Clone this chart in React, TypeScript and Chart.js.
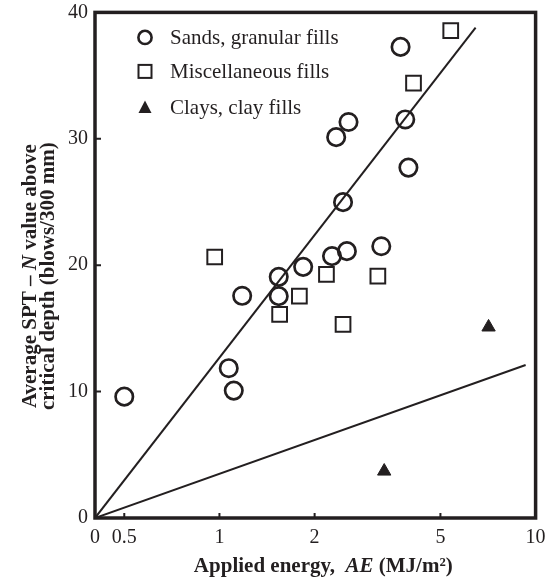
import React, { useEffect, useRef } from 'react';
import { Chart, registerables } from 'chart.js';

Chart.register(...registerables);

const FONT = '"Liberation Serif", "Times New Roman", serif';
const INK = '#231f20';

// Sands, granular fills (circles)
const sandsX = [0.5, 1.07, 1.11, 1.18, 1.54, 1.54, 1.84, 2.27, 2.53, 3.25, 2.46, 2.34, 2.56, 3.74, 3.87, 3.96];
const sandsY = [9.6, 11.85, 10.08, 17.58, 19.08, 17.55, 19.87, 20.72, 21.11, 21.5, 24.99, 30.13, 31.33, 37.27, 31.53, 27.72];
// Miscellaneous fills (squares)
const miscX = [5.39, 4.11, 0.966, 2.18, 3.17, 1.79, 1.55, 2.46];
const miscY = [38.55, 34.41, 20.65, 19.27, 19.14, 17.55, 16.11, 15.32];
// Clays, clay fills (triangles)
const clayX = [7.1, 3.32];
const clayY = [15.1, 3.7];
// Boundary lines from origin
const upperLineX = [0.404, 6.46];
const upperLineY = [0, 38.8];
const lowerLineX = [0.404, 9.3];
const lowerLineY = [0, 12.1];

const xMin = 0.404;
const xMax = 10;
const xTickValues = [0.404, 0.5, 1, 2, 5, 10];
const xTickLabels = ['0', '0.5', '1', '2', '5', '10'];
const innerTicksX = [0.5, 1, 2, 5];
const innerTicksY = [10, 20, 30];

const legendLabels = ['Sands, granular fills', 'Miscellaneous fills', 'Clays, clay fills'];
type Seg = { t: string; i: boolean };
const xTitle: Seg[] = [
  { t: 'Applied energy,  ', i: false },
  { t: 'AE', i: true },
  { t: ' (MJ/m\u00B2)', i: false },
];
const yTitle1: Seg[] = [
  { t: 'Average SPT \u2013 ', i: false },
  { t: 'N', i: true },
  { t: ' value above', i: false },
];
const yTitle2: Seg[] = [{ t: 'critical depth (blows/300 mm)', i: false }];

const zip = (xs: number[], ys: number[]) => xs.map((x, k) => ({ x, y: ys[k] }));

function drawSegs(ctx: CanvasRenderingContext2D, segs: Seg[], cx: number, y: number, size: number) {
  const fontFor = (s: Seg) => `${s.i ? 'italic ' : ''}bold ${size}px ${FONT}`;
  let total = 0;
  const widths = segs.map((s) => {
    ctx.font = fontFor(s);
    const w = ctx.measureText(s.t).width;
    total += w;
    return w;
  });
  let x = cx - total / 2;
  ctx.textAlign = 'left';
  ctx.textBaseline = 'alphabetic';
  segs.forEach((s, k) => {
    ctx.font = fontFor(s);
    ctx.fillText(s.t, x, y);
    x += widths[k];
  });
}

const decorPlugin = {
  id: 'decor',
  afterDraw(chart: any) {
    const { ctx, chartArea } = chart;
    const xs = chart.scales.x;
    const ys = chart.scales.y;
    const { left, right, top, bottom } = chartArea;
    ctx.save();
    ctx.strokeStyle = INK;
    ctx.fillStyle = INK;

    // frame
    ctx.lineWidth = 3.5;
    ctx.strokeRect(left, top, right - left, bottom - top);

    // inward ticks
    ctx.lineWidth = 2;
    ctx.beginPath();
    innerTicksX.forEach((v) => {
      const px = xs.getPixelForValue(v);
      ctx.moveTo(px, bottom);
      ctx.lineTo(px, bottom - 5);
    });
    innerTicksY.forEach((v) => {
      const py = ys.getPixelForValue(v);
      ctx.moveTo(left, py);
      ctx.lineTo(left + 6, py);
    });
    ctx.stroke();

    // x title
    drawSegs(ctx, xTitle, (left + right) / 2 + 8, 572, 21);

    // y title (two lines, rotated)
    const cy = (top + bottom) / 2 + 11;
    ctx.save();
    ctx.translate(35.5, cy);
    ctx.rotate(-Math.PI / 2);
    drawSegs(ctx, yTitle1, 0, 0, 21);
    ctx.restore();
    ctx.save();
    ctx.translate(54, cy);
    ctx.rotate(-Math.PI / 2);
    drawSegs(ctx, yTitle2, 0, 0, 21);
    ctx.restore();

    // legend
    const mx = left + 50;
    const tx = left + 75;
    const rows = [top + 25, top + 59, top + 95];
    ctx.lineWidth = 2.6;
    ctx.beginPath();
    ctx.arc(mx, rows[0], 6.6, 0, Math.PI * 2);
    ctx.stroke();
    ctx.lineWidth = 2;
    ctx.strokeRect(mx - 6.5, rows[1] - 6.5, 13, 13);
    ctx.beginPath();
    ctx.moveTo(mx, rows[2] - 7);
    ctx.lineTo(mx + 6.5, rows[2] + 5.5);
    ctx.lineTo(mx - 6.5, rows[2] + 5.5);
    ctx.closePath();
    ctx.fill();

    ctx.font = `21px ${FONT}`;
    ctx.textAlign = 'left';
    ctx.textBaseline = 'middle';
    legendLabels.forEach((lab, k) => {
      ctx.fillText(lab, tx, rows[k] + 1);
    });
    ctx.restore();
  },
};

export default function App() {
  const ref = useRef<HTMLCanvasElement | null>(null);
  useEffect(() => {
    if (!ref.current) return;
    const lineDs = (xs: number[], ys: number[]) => ({
      data: zip(xs, ys),
      showLine: true,
      borderColor: INK,
      borderWidth: 2,
      pointRadius: 0,
      fill: false,
      order: 5,
    });
    const chart = new Chart(ref.current, {
      type: 'scatter',
      data: {
        datasets: [
          lineDs(upperLineX, upperLineY) as any,
          lineDs(lowerLineX, lowerLineY) as any,
          {
            label: legendLabels[0],
            data: zip(sandsX, sandsY),
            pointStyle: 'circle',
            pointRadius: 8.7,
            pointBorderWidth: 2.7,
            pointBorderColor: INK,
            pointBackgroundColor: 'rgba(0,0,0,0)',
          },
          {
            label: legendLabels[1],
            data: zip(miscX, miscY),
            pointStyle: 'rect',
            pointRadius: 10.4,
            pointBorderWidth: 2,
            pointBorderColor: INK,
            pointBackgroundColor: 'rgba(0,0,0,0)',
          },
          {
            label: legendLabels[2],
            data: zip(clayX, clayY),
            pointStyle: 'triangle',
            pointRadius: 7.7,
            pointBorderWidth: 1,
            pointBorderColor: INK,
            pointBackgroundColor: INK,
          },
        ],
      },
      options: {
        responsive: false,
        animation: false,
        events: [],
        layout: { padding: { top: 11, right: 11, left: 0, bottom: 0 } },
        plugins: { legend: { display: false }, tooltip: { enabled: false } },
        scales: {
          x: {
            type: 'logarithmic',
            min: xMin,
            max: xMax,
            grid: { display: false, drawTicks: false },
            border: { display: false },
            afterBuildTicks: (scale: any) => {
              scale.ticks = xTickValues.map((v) => ({ value: v }));
            },
            afterFit: (scale: any) => {
              scale.height = 63;
              scale.paddingLeft = 0;
              scale.paddingRight = 0;
            },
            ticks: {
              autoSkip: false,
              maxRotation: 0,
              padding: 8,
              color: INK,
              font: { family: FONT, size: 20 },
              callback: (_v: any, i: number) => xTickLabels[i],
            },
          },
          y: {
            type: 'linear',
            min: 0,
            max: 40,
            grid: { display: false, drawTicks: false },
            border: { display: false },
            afterFit: (scale: any) => {
              scale.width = 95;
              scale.paddingTop = 0;
              scale.paddingBottom = 0;
            },
            ticks: {
              stepSize: 10,
              padding: 7,
              color: INK,
              font: { family: FONT, size: 20 },
            },
          },
        },
      },
      plugins: [decorPlugin],
    } as any);
    return () => chart.destroy();
  }, []);
  return (
    <div style={{ position: 'absolute', left: 0, top: 0, width: 548, height: 581, background: '#fff' }}>
      <canvas ref={ref} width={548} height={581} style={{ display: 'block' }} />
    </div>
  );
}
